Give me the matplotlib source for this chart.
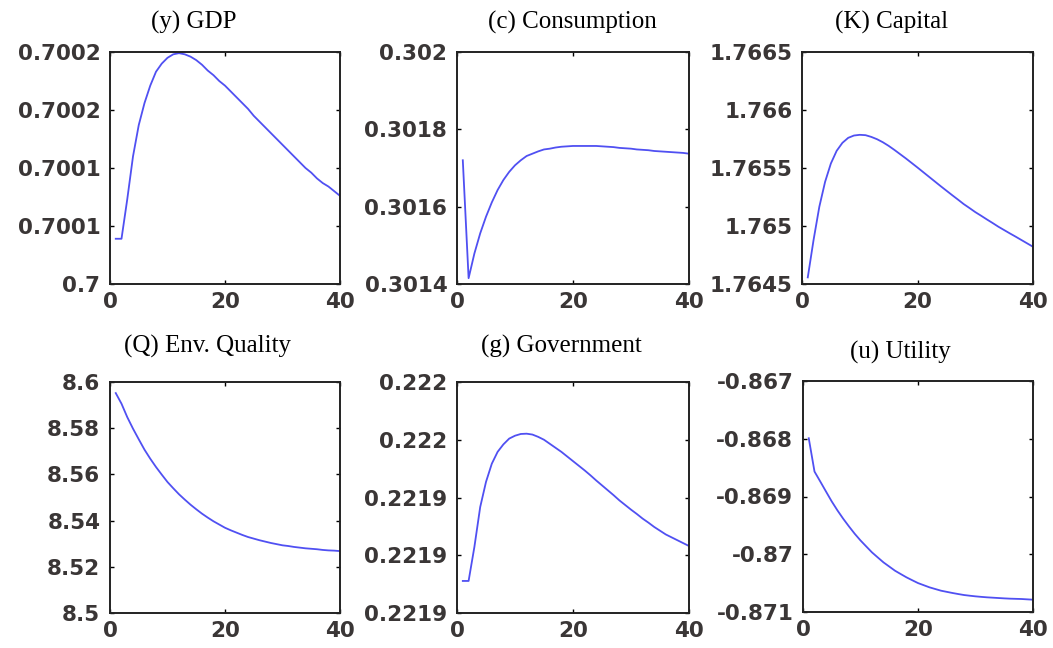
import numpy as np
import matplotlib
matplotlib.use("Agg")
import matplotlib.pyplot as plt

# periods
t = np.arange(1, 41)

gdp = [0.700039, 0.700039, 0.700073, 0.700110, 0.700137, 0.700156, 0.700171, 0.700183,
       0.700190, 0.700195, 0.700198, 0.700199, 0.700198, 0.700196, 0.700193, 0.700189,
       0.700184, 0.700180, 0.700175, 0.700171, 0.700166, 0.700161, 0.700156, 0.700151,
       0.700145, 0.700140, 0.700135, 0.700130, 0.700125, 0.700120, 0.700115, 0.700110,
       0.700105, 0.700100, 0.700096, 0.700091, 0.700087, 0.700084, 0.700080, 0.700076]

consumption = [0.301720, 0.301415, 0.301479, 0.301531, 0.301574, 0.301611, 0.301643, 0.301669,
               0.301690, 0.301707, 0.301720, 0.301731, 0.301737, 0.301743, 0.301748, 0.301750,
               0.301753, 0.301755, 0.301756, 0.301757, 0.301757, 0.301757, 0.301757, 0.301757,
               0.301756, 0.301755, 0.301754, 0.301752, 0.301751, 0.301750, 0.301748, 0.301747,
               0.301746, 0.301744, 0.301743, 0.301742, 0.301741, 0.301740, 0.301739, 0.301737]

capital = [1.764557, 1.764879, 1.765166, 1.765381, 1.765539, 1.765648, 1.765717, 1.765760,
           1.765780, 1.765786, 1.765783, 1.765768, 1.765748, 1.765722, 1.765691, 1.765656,
           1.765619, 1.765582, 1.765543, 1.765504, 1.765464, 1.765424, 1.765384, 1.765344,
           1.765305, 1.765266, 1.765228, 1.765189, 1.765155, 1.765120, 1.765089, 1.765057,
           1.765026, 1.764994, 1.764965, 1.764936, 1.764908, 1.764879, 1.764850, 1.764821]

env_quality = [8.5952, 8.5906, 8.5848, 8.5798, 8.5752, 8.5707, 8.5668, 8.5632,
               8.5599, 8.5567, 8.5540, 8.5514, 8.5491, 8.5469, 8.5449, 8.5430,
               8.5413, 8.5397, 8.5383, 8.5369, 8.5358, 8.5348, 8.5338, 8.5329,
               8.5322, 8.5315, 8.5309, 8.5303, 8.5298, 8.5293, 8.5290, 8.5286,
               8.5283, 8.5280, 8.5278, 8.5276, 8.5273, 8.5271, 8.5270, 8.5268]

government = [0.2219111, 0.2219111, 0.2219229, 0.2219367, 0.2219454, 0.2219517, 0.2219558, 0.2219584,
              0.2219604, 0.2219614, 0.2219620, 0.2219621, 0.2219618, 0.2219610, 0.2219600, 0.2219586,
              0.2219572, 0.2219558, 0.2219542, 0.2219526, 0.2219510, 0.2219494, 0.2219477, 0.2219459,
              0.2219442, 0.2219425, 0.2219408, 0.2219390, 0.2219374, 0.2219358, 0.2219343, 0.2219327,
              0.2219313, 0.2219298, 0.2219285, 0.2219272, 0.2219262, 0.2219252, 0.2219242, 0.2219232]

utility = [-0.867991, -0.868568, -0.868740, -0.868914, -0.869086, -0.869242, -0.869386, -0.869519,
           -0.869646, -0.869761, -0.869865, -0.869968, -0.870055, -0.870141, -0.870213, -0.870285,
           -0.870343, -0.870400, -0.870450, -0.870499, -0.870536, -0.870573, -0.870602, -0.870631,
           -0.870651, -0.870671, -0.870689, -0.870706, -0.870718, -0.870729, -0.870738, -0.870746,
           -0.870752, -0.870758, -0.870764, -0.870769, -0.870772, -0.870775, -0.870781, -0.870787]

titles = ["(y) GDP", "(c) Consumption", "(K) Capital",
          "(Q) Env. Quality", "(g) Government", "(u) Utility"]
series = [gdp, consumption, capital, env_quality, government, utility]

yticks = [[0.7, 0.70005, 0.7001, 0.70015, 0.7002],
          [0.3014, 0.3016, 0.3018, 0.302],
          [1.7645, 1.765, 1.7655, 1.766, 1.7665],
          [8.5, 8.52, 8.54, 8.56, 8.58, 8.6],
          [0.2219, 0.22192, 0.22194, 0.22196, 0.22198],
          [-0.871, -0.87, -0.869, -0.868, -0.867]]
ytick_labels = [["0.7", "0.7001", "0.7001", "0.7002", "0.7002"],
                ["0.3014", "0.3016", "0.3018", "0.302"],
                ["1.7645", "1.765", "1.7655", "1.766", "1.7665"],
                ["8.5", "8.52", "8.54", "8.56", "8.58", "8.6"],
                ["0.2219", "0.2219", "0.2219", "0.222", "0.222"],
                ["-0.871", "-0.87", "-0.869", "-0.868", "-0.867"]]

W, H = 1053, 648
# axes boxes in pixels: left, top, right, bottom
boxes = [(110, 52, 340, 284), (457, 52, 689, 284), (802, 52, 1033, 284),
         (110, 382, 340, 613), (457, 382, 689, 613), (803, 381, 1033, 612)]
title_pos = [(194, 22), (572, 22), (892, 22), (207, 346), (561, 346), (900, 352)]

fig = plt.figure(figsize=(W / 100, H / 100), dpi=100)

for i in range(6):
    l, tp, r, b = boxes[i]
    ax = fig.add_axes([l / W, 1 - b / H, (r - l) / W, (b - tp) / H])
    ax.plot(t, series[i], color="#5050f2", lw=1.3)
    ax.set_xlim(0, 40)
    ax.set_ylim(yticks[i][0], yticks[i][-1])
    ax.set_xticks([0, 20, 40])
    ax.set_xticklabels(["0", "20", "40"])
    ax.set_yticks(yticks[i])
    ax.set_yticklabels(ytick_labels[i])
    ax.tick_params(direction="in", length=3, width=1, top=True, right=True,
                   labelsize=15.5, labelcolor="#3a3636")
    ax.tick_params(axis="y", pad=7)
    ax.tick_params(axis="x", pad=6)
    for lab in ax.get_xticklabels() + ax.get_yticklabels():
        lab.set_fontweight("bold")
        lab.set_family("DejaVu Sans")
    for sp in ax.spines.values():
        sp.set_linewidth(1.4)
        sp.set_color("#222222")
    fig.text(title_pos[i][0] / W, 1 - title_pos[i][1] / H, titles[i],
             ha="center", va="center", family="Liberation Serif", fontsize=18)

fig.savefig("out.png", dpi=100)
